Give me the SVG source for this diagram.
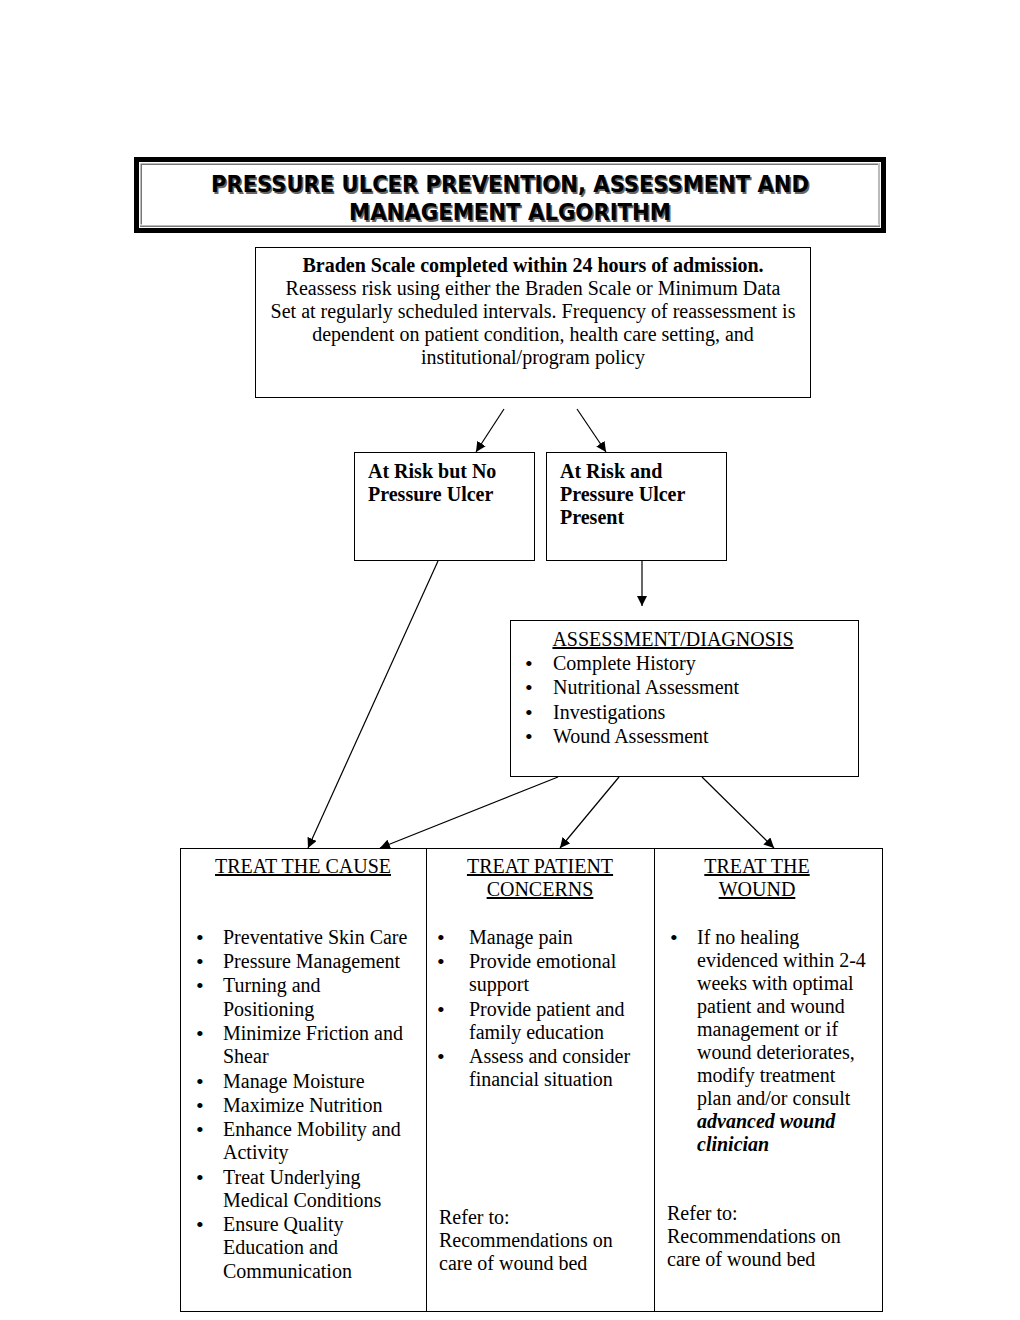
<svg xmlns="http://www.w3.org/2000/svg" width="1020" height="1320" viewBox="0 0 1020 1320">
<style>
.t{font-family:"Liberation Serif","Times New Roman",serif;font-size:20px;fill:#000}
.b{font-weight:bold}
.c{text-anchor:middle}
.u{text-decoration:underline}
.blt{font-size:22px}
.box{fill:#fff;stroke:#000;stroke-width:1}
.ttl{font-family:"DejaVu Sans Condensed","DejaVu Sans",Tahoma,sans-serif;font-weight:bold;font-size:23px;text-anchor:middle}
.con{stroke:#000;stroke-width:1.2;fill:none;marker-end:url(#ah)}
</style>
<defs>
<marker id="ah" viewBox="0 0 10 10" refX="10" refY="5" markerWidth="10" markerHeight="10" markerUnits="userSpaceOnUse" orient="auto">
<path d="M0,0 L10,5 L0,10 z" fill="#000"/>
</marker>
</defs>
<rect width="1020" height="1320" fill="#fff"/>

<g id="title">
<rect x="136.5" y="159.5" width="747" height="71" fill="none" stroke="#000" stroke-width="5"/>
<rect x="141" y="164" width="738" height="62" fill="#fff" stroke="#777" stroke-width="2"/>
<rect x="140" y="163" width="739" height="62" fill="none" stroke="#fff" stroke-width="1"/>
<text class="ttl" x="511.5" y="193.5" fill="#666" textLength="598" lengthAdjust="spacingAndGlyphs">PRESSURE ULCER PREVENTION, ASSESSMENT AND</text>
<text class="ttl" x="510" y="192" fill="#000" textLength="598" lengthAdjust="spacingAndGlyphs">PRESSURE ULCER PREVENTION, ASSESSMENT AND</text>
<text class="ttl" x="511.5" y="221.5" fill="#666" textLength="322" lengthAdjust="spacingAndGlyphs">MANAGEMENT ALGORITHM</text>
<text class="ttl" x="510" y="220" fill="#000" textLength="322" lengthAdjust="spacingAndGlyphs">MANAGEMENT ALGORITHM</text>
</g>

<g id="braden">
<rect class="box" x="255.5" y="247.5" width="555" height="150"/>
<text class="t b c" x="533" y="272">Braden Scale completed within 24 hours of admission.</text>
<text class="t c" x="533" y="295">Reassess risk using either the Braden Scale or Minimum Data</text>
<text class="t c" x="533" y="318">Set at regularly scheduled intervals. Frequency of reassessment is</text>
<text class="t c" x="533" y="341">dependent on patient condition, health care setting, and</text>
<text class="t c" x="533" y="364">institutional/program policy</text>
</g>

<g id="norisk">
<rect class="box" x="354.5" y="452.5" width="180" height="108"/>
<text class="t b" x="368" y="478">At Risk but No</text>
<text class="t b" x="368" y="501">Pressure Ulcer</text>
</g>

<g id="ulcer">
<rect class="box" x="546.5" y="452.5" width="180" height="108"/>
<text class="t b" x="560" y="478">At Risk and</text>
<text class="t b" x="560" y="501">Pressure Ulcer</text>
<text class="t b" x="560" y="524">Present</text>
</g>

<g id="assessment">
<rect class="box" x="510.5" y="620.5" width="348" height="156"/>
<text class="t c u" x="673" y="646">ASSESSMENT/DIAGNOSIS</text>
<text class="t blt" x="525" y="671">•</text><text class="t" x="553" y="670">Complete History</text>
<text class="t blt" x="525" y="695">•</text><text class="t" x="553" y="694">Nutritional Assessment</text>
<text class="t blt" x="525" y="720">•</text><text class="t" x="553" y="719">Investigations</text>
<text class="t blt" x="525" y="744">•</text><text class="t" x="553" y="743">Wound Assessment</text>
</g>

<g id="treat-cause">
<rect class="box" x="180.5" y="848.5" width="246" height="463"/>
<text class="t c u" x="303" y="873">TREAT THE CAUSE</text>
<text class="t blt" x="196" y="945">•</text><text class="t" x="223" y="944">Preventative Skin Care</text>
<text class="t blt" x="196" y="969">•</text><text class="t" x="223" y="968">Pressure Management</text>
<text class="t blt" x="196" y="993">•</text><text class="t" x="223" y="992">Turning and</text>
<text class="t" x="223" y="1016">Positioning</text>
<text class="t blt" x="196" y="1041">•</text><text class="t" x="223" y="1040">Minimize Friction and</text>
<text class="t" x="223" y="1063">Shear</text>
<text class="t blt" x="196" y="1089">•</text><text class="t" x="223" y="1088">Manage Moisture</text>
<text class="t blt" x="196" y="1113">•</text><text class="t" x="223" y="1112">Maximize Nutrition</text>
<text class="t blt" x="196" y="1137">•</text><text class="t" x="223" y="1136">Enhance Mobility and</text>
<text class="t" x="223" y="1159">Activity</text>
<text class="t blt" x="196" y="1185">•</text><text class="t" x="223" y="1184">Treat Underlying</text>
<text class="t" x="223" y="1207">Medical Conditions</text>
<text class="t blt" x="196" y="1232">•</text><text class="t" x="223" y="1231">Ensure Quality</text>
<text class="t" x="223" y="1254">Education and</text>
<text class="t" x="223" y="1278">Communication</text>
</g>

<g id="treat-patient">
<rect class="box" x="426.5" y="848.5" width="228" height="463"/>
<text class="t c u" x="540" y="873">TREAT PATIENT</text>
<text class="t c u" x="540" y="896">CONCERNS</text>
<text class="t blt" x="437" y="945">•</text><text class="t" x="469" y="944">Manage pain</text>
<text class="t blt" x="437" y="969">•</text><text class="t" x="469" y="968">Provide emotional</text>
<text class="t" x="469" y="991">support</text>
<text class="t blt" x="437" y="1017">•</text><text class="t" x="469" y="1016">Provide patient and</text>
<text class="t" x="469" y="1039">family education</text>
<text class="t blt" x="437" y="1064">•</text><text class="t" x="469" y="1063">Assess and consider</text>
<text class="t" x="469" y="1086">financial situation</text>
<text class="t" x="439" y="1224">Refer to:</text>
<text class="t" x="439" y="1247">Recommendations on</text>
<text class="t" x="439" y="1270">care of wound bed</text>
</g>

<g id="treat-wound">
<rect class="box" x="654.5" y="848.5" width="228" height="463"/>
<text class="t c u" x="757" y="873">TREAT THE</text>
<text class="t c u" x="757" y="896">WOUND</text>
<text class="t blt" x="670" y="945">•</text><text class="t" x="697" y="944">If no healing</text>
<text class="t" x="697" y="967">evidenced within 2-4</text>
<text class="t" x="697" y="990">weeks with optimal</text>
<text class="t" x="697" y="1013">patient and wound</text>
<text class="t" x="697" y="1036">management or if</text>
<text class="t" x="697" y="1059">wound deteriorates,</text>
<text class="t" x="697" y="1082">modify treatment</text>
<text class="t" x="697" y="1105">plan and/or consult</text>
<text class="t b" x="697" y="1128" font-style="italic">advanced wound</text>
<text class="t b" x="697" y="1151" font-style="italic">clinician</text>
<text class="t" x="667" y="1220">Refer to:</text>
<text class="t" x="667" y="1243">Recommendations on</text>
<text class="t" x="667" y="1266">care of wound bed</text>
</g>

<g id="connectors">
<line class="con" x1="504" y1="409" x2="476" y2="452"/>
<line class="con" x1="577" y1="409" x2="606" y2="452"/>
<line class="con" x1="642" y1="560" x2="642" y2="606"/>
<line class="con" x1="438" y1="561" x2="308" y2="848"/>
<line class="con" x1="558" y1="777" x2="380" y2="848"/>
<line class="con" x1="619" y1="777" x2="560" y2="848"/>
<line class="con" x1="702" y1="777" x2="774" y2="848"/>
</g>
</svg>
